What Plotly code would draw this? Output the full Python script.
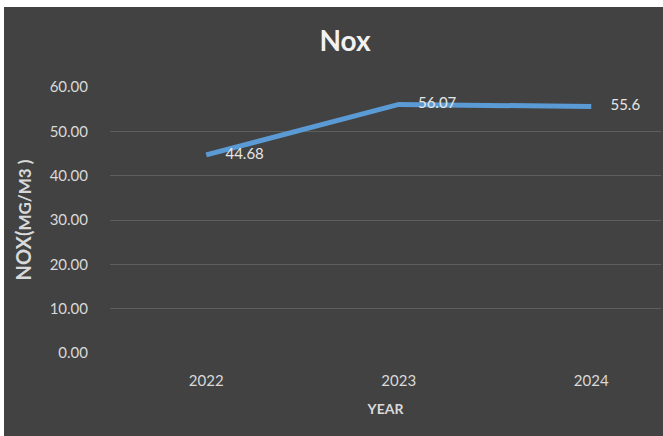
import plotly.graph_objects as go

years = [2022, 2023, 2024]
year_labels = ["2022", "2023", "2024"]
nox = [44.68, 56.07, 55.6]
nox_labels = ["44.68", "56.07", "55.6"]
y_ticks = [0, 10, 20, 30, 40, 50, 60]

W, H = 663, 436
L, R, T, B = 110, 2, 87, 83
pw, ph = W - L - R, H - T - B

pad = "\u00a0" * 5
fig = go.Figure()
fig.add_trace(go.Scatter(
    x=years, y=nox, mode="lines+text",
    line=dict(color="#5B9BD5", width=5),
    text=[pad + t for t in nox_labels], textposition="middle right",
    textfont=dict(family="Lato, sans-serif", size=15, color="#E6E6E6"),
    cliponaxis=False, showlegend=False, hoverinfo="skip",
))

fig.add_shape(type="rect", xref="paper", yref="paper",
              x0=(4 - L) / pw, x1=1.01, y0=-0.5, y1=(H - 7 - B) / ph,
              fillcolor="#424242", line=dict(width=0), layer="below")

fig.update_layout(
    width=W, height=H,
    margin=dict(l=L, r=R, t=T, b=B),
    paper_bgcolor="white", plot_bgcolor="rgba(0,0,0,0)",
    title=dict(text="<b>Nox</b>", x=345 / W, xanchor="center", y=1 - 41 / H, yanchor="middle",
               font=dict(family="Lato, sans-serif", size=28, color="#F2F2F2")),
    font=dict(family="Lato, sans-serif", color="#D9D9D9"),
)
fig.update_xaxes(
    tickvals=years, ticktext=year_labels, range=[2021.5, 2021.5 + pw / 192.5],
    showgrid=False, zeroline=False, showline=False,
    ticks="outside", ticklen=14, tickcolor="rgba(0,0,0,0)",
    tickfont=dict(size=15, color="#D9D9D9"),
    title=dict(text="<b>YEAR</b>", font=dict(size=14, color="#D9D9D9"), standoff=16),
)
fig.update_yaxes(
    range=[0, 60], tickvals=y_ticks, tickformat=".2f",
    showgrid=True, gridcolor="#5E5E5E", gridwidth=1, zeroline=False, showline=False,
    ticks="outside", ticklen=18, tickcolor="rgba(0,0,0,0)",
    tickfont=dict(size=15, color="#D9D9D9"),
    title=dict(text="<b>NOX(<span style='font-size:17px'>MG/M3 )</span></b>",
               font=dict(size=20, color="#D9D9D9"), standoff=12),
)
fig.write_html("out.html", config={"displayModeBar": False},
               post_script="document.body.style.margin='0';document.body.style.overflow='hidden';")
